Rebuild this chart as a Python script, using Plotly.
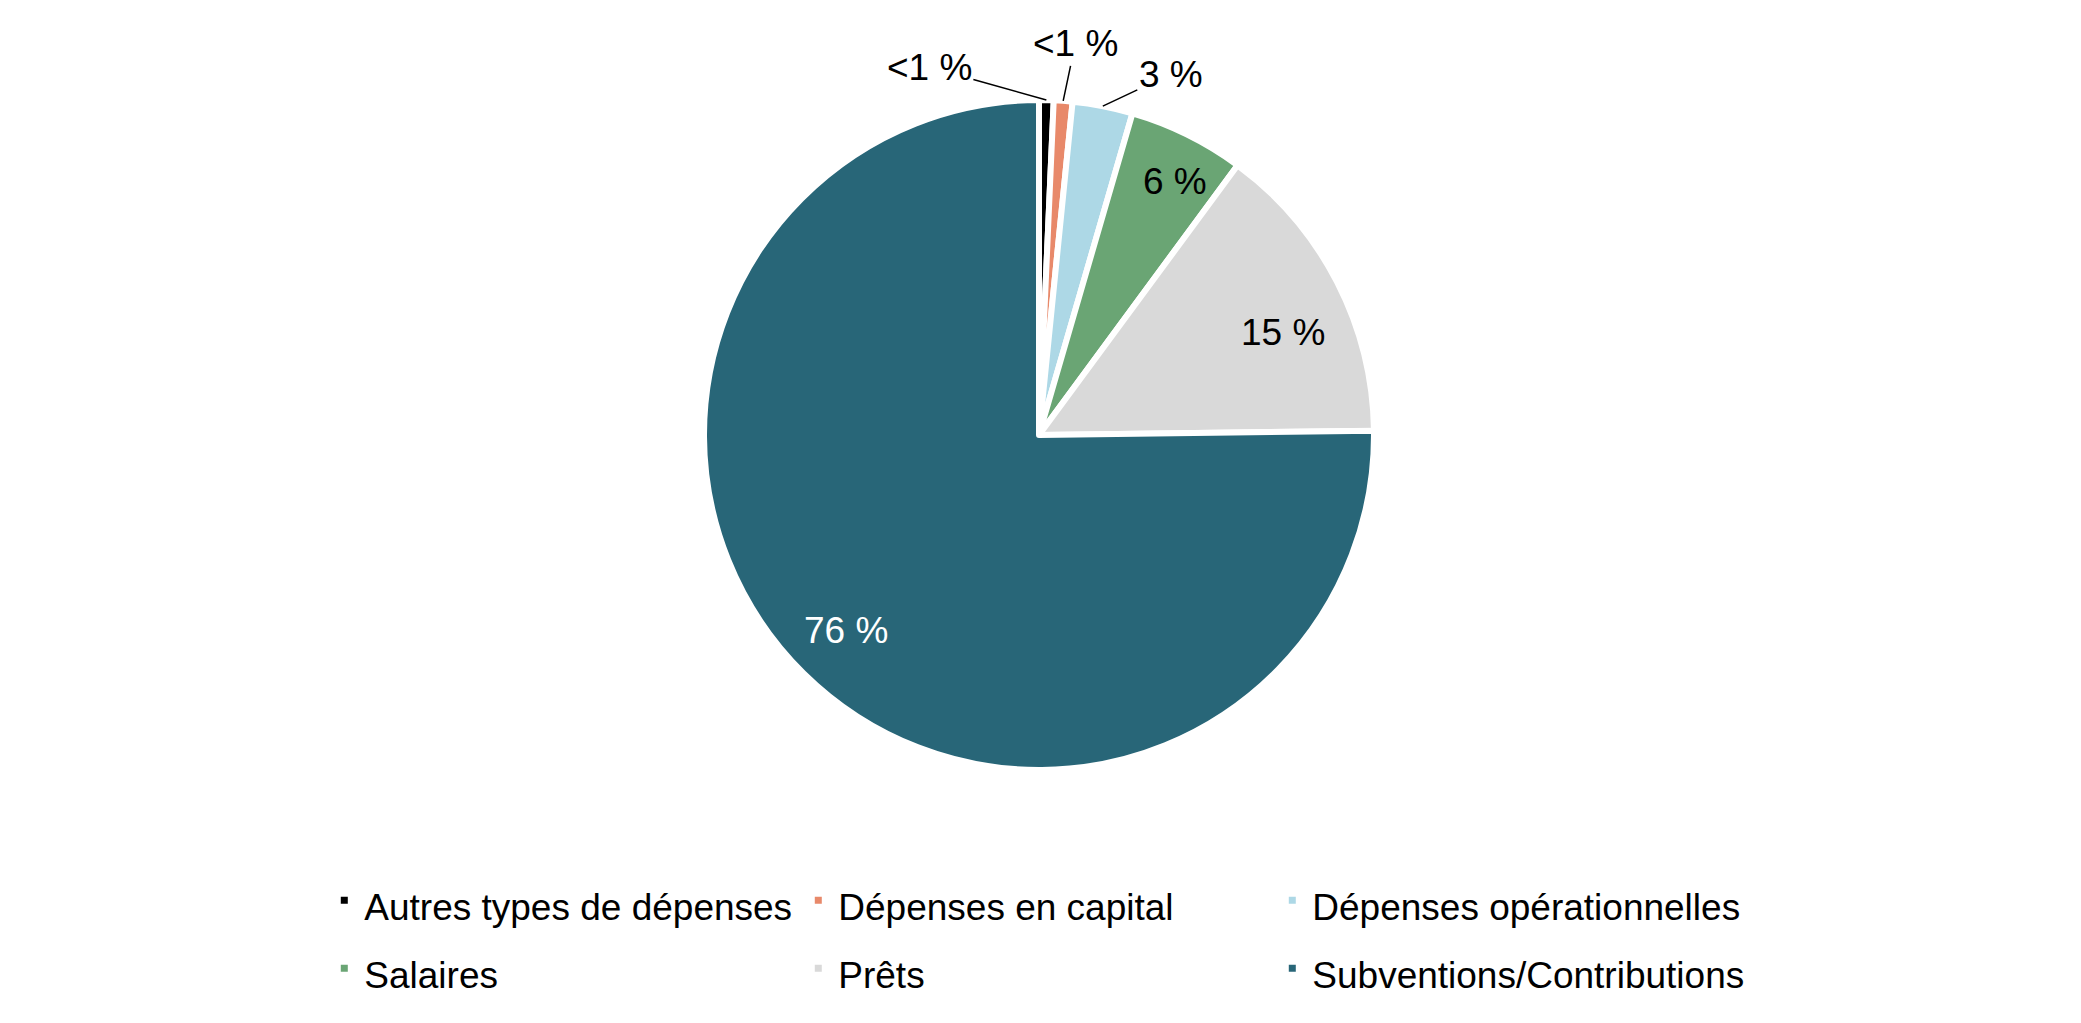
import math
import plotly.graph_objects as go

categories = ["Autres types de dépenses", "Dépenses en capital", "Dépenses opérationnelles",
              "Salaires", "Prêts", "Subventions/Contributions"]
shares = [0.7, 0.9, 2.9, 5.6, 14.7, 75.2]
pct_labels = ["<1 %", "<1 %", "3 %", "6 %", "15 %", "76 %"]
colors = ["#000000", "#E8896A", "#ADD8E6", "#6AA574", "#D9D9D9", "#286678"]
label_colors = ["#000000", "#000000", "#000000", "#000000", "#000000", "#FFFFFF"]

# layout geometry (pixels)
W, H = 2081, 1023
ML, MR = 300, 300
PW = W - ML - MR
cx, cy, rad = 1031, 427, 335
dom_x = [(cx - rad - ML) / PW, (cx + rad - ML) / PW]
dom_y = [1 - (cy + rad) / H, 1 - (cy - rad) / H]

# label placement style: None = inside at fraction of radius, else outside with leader (dx, dy px)
label_offsets = [(-117, -33), (12, -57), (68, -32), None, None, None]
inside_frac = [0, 0, 0, 0.92, 0.82, 0.82]

# legend text drawn smaller than the legend font to get taller rows
legend_names = ["<span style='font-size:37px'>%s</span>" % c for c in categories]

fig = go.Figure()
fig.add_trace(go.Pie(
    labels=legend_names,
    values=shares,
    textinfo="none",
    marker=dict(colors=colors, line=dict(color="white", width=6)),
    sort=False,
    direction="clockwise",
    rotation=0,
    domain=dict(x=dom_x, y=dom_y),
    hoverinfo="label+percent",
))

total = sum(shares)
cum = 0
for i, v in enumerate(shares):
    mid = (cum + v / 2) / total * 2 * math.pi
    cum += v
    if label_offsets[i] is not None:
        px_ = cx + rad * math.sin(mid)
        py_ = cy - rad * math.cos(mid)
        fig.add_annotation(
            x=(px_ - ML) / PW, y=1 - py_ / H, xref="paper", yref="paper",
            text=pct_labels[i], showarrow=True, arrowhead=0, arrowwidth=1.5,
            arrowcolor="black", ax=label_offsets[i][0], ay=label_offsets[i][1],
            font=dict(size=37, color=label_colors[i]),
        )
    else:
        px_ = cx + rad * inside_frac[i] * math.sin(mid)
        py_ = cy - rad * inside_frac[i] * math.cos(mid)
        fig.add_annotation(
            x=(px_ - ML) / PW, y=1 - py_ / H, xref="paper", yref="paper",
            text=pct_labels[i], showarrow=False,
            font=dict(size=37, color=label_colors[i]),
        )

fig.update_layout(
    width=W, height=H,
    margin=dict(l=ML, r=MR, t=0, b=0),
    paper_bgcolor="white",
    plot_bgcolor="white",
    font=dict(family="Liberation Sans, Arial", size=37, color="black"),
    showlegend=True,
    legend=dict(
        orientation="h",
        x=0.011, xanchor="left",
        y=0.166, yanchor="top",
        entrywidth=429,
        entrywidthmode="pixels",
        traceorder="normal",
        font=dict(size=50),
    ),
)

fig.write_html("out.html")
